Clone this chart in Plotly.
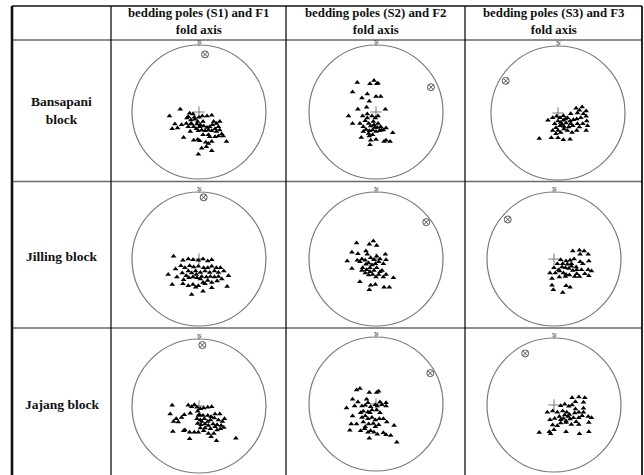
import plotly.graph_objects as go

W, H = 644, 475

# ---------------- data (unit-circle stereonet coordinates, x = East, y = North) ----------------
col_headers = ["bedding poles (S1) and F1<br>fold axis",
               "bedding poles (S2) and F2<br>fold axis",
               "bedding poles (S3) and F3<br>fold axis"]
row_labels = ["Bansapani<br>block", "Jilling block", "Jajang block"]

bansapani_s1_x = [-0.28,-0.44,-0.36,-0.40,-0.32,-0.14,-0.09,-0.07,0.00,0.05,0.12,0.19,-0.18,-0.12,-0.06,-0.02,-0.11,-0.16,-0.08,-0.04,0.01,0.07,0.12,0.16,0.22,0.26,0.31,0.29,0.24,0.19,0.26,0.31,0.34,0.29,0.41,0.14,0.09,0.04,-0.01,-0.13,-0.23,-0.08,-0.02,0.01,0.10,0.14,0.19,0.04,0.11,0.19,-0.01,-0.12,-0.03,0.06,-0.19,-0.26,0.14,0.16,0.24,0.06,-0.16,0.02,0.20,0.36]
bansapani_s1_y = [0.04,-0.06,-0.18,-0.25,-0.24,-0.02,-0.03,-0.08,-0.08,-0.06,-0.06,-0.05,-0.09,-0.12,-0.11,-0.14,-0.18,-0.22,-0.22,-0.25,-0.22,-0.21,-0.23,-0.22,-0.14,-0.17,-0.14,-0.22,-0.25,-0.28,-0.29,-0.27,-0.33,-0.36,-0.44,-0.27,-0.28,-0.27,-0.28,-0.29,-0.38,-0.42,-0.41,-0.43,-0.45,-0.47,-0.44,-0.54,-0.52,-0.58,-0.63,-0.17,-0.18,-0.14,-0.17,-0.19,-0.34,-0.37,-0.37,-0.34,-0.07,-0.19,-0.19,-0.36]

bansapani_s2_x = [-0.28,-0.09,-0.03,0.01,0.03,-0.35,-0.13,-0.21,-0.10,0.00,0.07,-0.27,-0.14,0.14,-0.41,-0.35,-0.20,-0.13,-0.06,-0.01,0.03,-0.16,-0.11,-0.08,-0.03,0.02,0.07,0.15,-0.19,-0.15,-0.10,-0.05,0.00,0.05,0.11,0.25,-0.11,-0.05,-0.22,-0.08,0.00,-0.09,0.12,0.15,0.21,-0.13,-0.24,-0.04,0.03,0.08,-0.19,-0.10,-0.02]
bansapani_s2_y = [0.44,0.42,0.47,0.42,0.43,0.30,0.27,0.21,0.16,0.23,0.23,0.04,0.07,0.04,-0.06,-0.17,-0.06,-0.03,-0.06,-0.09,-0.06,-0.13,-0.17,-0.21,-0.19,-0.23,-0.22,-0.24,-0.22,-0.26,-0.28,-0.27,-0.29,-0.28,-0.27,-0.31,-0.32,-0.34,-0.38,-0.42,-0.41,-0.49,-0.44,-0.42,-0.44,-0.09,-0.17,-0.14,-0.17,-0.27,-0.29,-0.36,-0.23]

bansapani_s3_x = [-0.15,-0.08,-0.02,0.03,0.08,0.14,0.19,0.27,0.32,0.36,0.42,0.29,0.38,-0.05,0.00,0.04,0.08,0.12,0.18,0.23,0.28,0.34,0.42,0.43,0.44,0.37,0.29,0.22,0.16,0.09,0.03,-0.03,-0.08,0.00,0.04,0.09,0.14,0.21,0.28,0.42,-0.10,0.00,0.08,0.18,-0.28,0.06,0.11,0.19,-0.03,0.32]
bansapani_s3_y = [-0.11,-0.07,-0.05,-0.07,-0.04,-0.07,-0.01,0.07,0.04,0.09,0.03,0.00,-0.01,-0.16,-0.12,-0.14,-0.11,-0.15,-0.12,-0.10,-0.09,-0.07,-0.05,-0.12,-0.19,-0.16,-0.16,-0.19,-0.21,-0.20,-0.19,-0.22,-0.26,-0.26,-0.29,-0.24,-0.26,-0.29,-0.26,-0.26,-0.37,-0.37,-0.40,-0.39,-0.38,-0.17,-0.09,-0.16,-0.31,-0.21]

jilling_s1_x = [-0.38,-0.24,-0.16,-0.09,-0.01,0.06,0.13,0.19,-0.35,-0.27,-0.21,-0.14,-0.08,-0.01,0.07,0.13,0.19,0.26,0.32,-0.46,-0.33,-0.25,-0.16,-0.11,-0.05,0.02,0.09,0.16,0.23,0.29,0.37,-0.23,-0.15,-0.09,-0.03,0.04,0.11,0.17,0.23,0.29,0.34,0.44,-0.40,-0.24,-0.16,-0.09,-0.01,0.06,0.13,0.19,0.27,0.42,-0.05,0.06,0.19,-0.11,0.02,0.09,-0.04,-0.19]
jilling_s1_y = [0.04,-0.02,0.00,-0.01,-0.02,0.00,-0.03,-0.01,-0.15,-0.10,-0.13,-0.10,-0.12,-0.11,-0.13,-0.13,-0.11,-0.13,-0.13,-0.23,-0.27,-0.21,-0.18,-0.21,-0.18,-0.20,-0.18,-0.20,-0.18,-0.20,-0.18,-0.31,-0.28,-0.27,-0.28,-0.26,-0.27,-0.26,-0.27,-0.26,-0.30,-0.25,-0.38,-0.37,-0.40,-0.38,-0.40,-0.35,-0.32,-0.35,-0.33,-0.41,-0.42,-0.48,-0.43,-0.53,-0.30,-0.37,-0.23,-0.25]

jilling_s2_x = [-0.29,-0.10,-0.04,0.01,-0.36,-0.27,-0.15,-0.13,-0.21,-0.16,-0.08,-0.03,0.01,0.06,0.14,0.15,-0.43,-0.24,-0.11,-0.06,0.04,0.11,-0.36,-0.20,-0.14,-0.09,-0.03,0.01,0.06,-0.21,-0.16,-0.11,-0.05,0.00,0.04,0.09,0.15,0.26,-0.24,-0.08,-0.01,-0.10,0.12,0.20,-0.15,-0.09,-0.01,0.11,-0.28]
jilling_s2_y = [0.24,0.22,0.27,0.20,0.10,0.08,0.12,0.07,0.00,-0.02,0.02,-0.01,0.04,0.00,0.07,-0.01,-0.03,-0.04,-0.06,-0.09,-0.04,-0.07,-0.14,-0.13,-0.16,-0.13,-0.17,-0.13,-0.19,-0.17,-0.21,-0.24,-0.23,-0.27,-0.23,-0.17,-0.23,-0.28,-0.34,-0.39,-0.38,-0.46,-0.42,-0.42,-0.08,-0.19,-0.07,-0.27,-0.02]

jilling_s3_x = [0.28,0.38,0.45,0.39,0.51,0.10,0.18,0.24,0.30,0.20,0.13,0.26,0.33,0.39,0.43,0.52,0.00,0.07,0.12,0.17,0.22,0.28,0.34,0.41,0.51,0.56,-0.06,0.02,0.08,0.14,0.18,0.23,0.31,0.38,0.46,0.52,-0.03,0.08,0.17,-0.03,0.18,0.24,-0.01,0.13,0.05,0.26,0.34]
jilling_s3_y = [0.12,0.13,0.12,0.07,0.07,-0.01,-0.03,-0.02,0.00,-0.08,-0.07,-0.07,-0.12,-0.04,-0.07,-0.03,-0.13,-0.16,-0.12,-0.13,-0.14,-0.17,-0.16,-0.16,-0.16,-0.18,-0.21,-0.21,-0.18,-0.21,-0.23,-0.24,-0.26,-0.26,-0.22,-0.25,-0.29,-0.27,-0.26,-0.39,-0.40,-0.42,-0.46,-0.50,-0.07,-0.11,-0.22]

jajang_s1_x = [-0.40,-0.16,-0.11,-0.07,-0.03,0.02,0.07,0.13,0.19,-0.43,-0.34,-0.26,-0.22,-0.13,-0.02,0.01,0.06,0.13,0.18,0.24,0.31,0.38,-0.38,-0.31,-0.03,0.02,0.08,0.13,0.17,0.23,0.29,0.35,-0.02,0.03,0.09,0.14,0.21,0.27,0.33,0.37,-0.39,-0.23,-0.14,-0.07,-0.01,0.07,0.14,0.22,0.27,0.32,0.18,-0.14,0.26,0.55,0.02,0.09,0.17,0.24,-0.01,0.04,-0.21]
jajang_s1_y = [0.01,0.01,-0.01,0.02,-0.02,-0.04,-0.03,-0.02,-0.01,-0.12,-0.19,-0.17,-0.13,-0.11,-0.08,-0.13,-0.14,-0.14,-0.16,-0.12,-0.12,-0.19,-0.23,-0.24,-0.19,-0.21,-0.19,-0.23,-0.21,-0.18,-0.21,-0.23,-0.26,-0.28,-0.27,-0.29,-0.27,-0.28,-0.29,-0.32,-0.38,-0.37,-0.39,-0.39,-0.39,-0.37,-0.41,-0.41,-0.36,-0.34,-0.46,-0.49,-0.52,-0.48,-0.33,-0.33,-0.34,-0.31,-0.14,-0.23,-0.36]

jajang_s2_x = [-0.29,-0.24,-0.10,0.01,0.04,-0.35,-0.27,-0.14,-0.12,0.06,0.15,-0.44,-0.32,-0.21,-0.16,-0.08,-0.01,0.02,0.09,0.15,-0.35,-0.19,-0.12,-0.06,0.01,0.06,-0.21,-0.16,-0.12,-0.06,-0.01,0.05,0.11,0.16,0.27,-0.37,-0.29,-0.39,-0.23,-0.17,-0.12,-0.08,-0.03,0.02,-0.10,0.11,0.15,0.22,0.31,-0.19,-0.11,-0.04,0.04,-0.16,-0.01,-0.09,-0.23]
jajang_s2_y = [0.21,0.23,0.17,0.17,0.19,0.07,0.03,0.07,0.02,0.03,0.02,-0.06,-0.03,-0.03,-0.02,-0.04,-0.01,-0.03,-0.01,-0.03,-0.18,-0.11,-0.12,-0.09,-0.09,-0.13,-0.20,-0.18,-0.22,-0.20,-0.24,-0.22,-0.22,-0.27,-0.32,-0.30,-0.30,-0.39,-0.40,-0.37,-0.42,-0.40,-0.42,-0.45,-0.51,-0.43,-0.46,-0.47,-0.57,-0.27,-0.30,-0.29,-0.31,-0.34,-0.34,-0.13,-0.13]

jajang_s3_x = [0.27,0.37,0.46,0.32,0.44,0.10,0.16,0.22,0.27,0.32,0.44,-0.10,-0.02,0.05,0.13,0.19,0.23,0.31,0.37,0.44,0.51,0.56,-0.06,0.01,0.08,0.14,0.18,0.24,0.29,0.37,0.42,0.52,-0.02,0.05,0.10,0.18,0.26,0.37,0.00,-0.07,-0.05,0.18,0.38,0.52,-0.22,0.16,0.10,0.33,0.21]
jajang_s3_y = [0.11,0.12,0.11,0.05,0.04,-0.01,0.01,-0.02,0.00,-0.06,-0.05,-0.11,-0.09,-0.11,-0.09,-0.11,-0.14,-0.12,-0.11,-0.11,-0.17,-0.19,-0.22,-0.20,-0.17,-0.20,-0.24,-0.21,-0.19,-0.19,-0.16,-0.26,-0.30,-0.31,-0.27,-0.26,-0.29,-0.29,-0.37,-0.40,-0.43,-0.40,-0.43,-0.40,-0.41,-0.15,-0.22,-0.25,-0.17]

# fold axes (F1, F2, F3) per block, same order as panels below
fold_x = [0.09, 0.82, -0.78, 0.07, 0.75, -0.69, 0.05, 0.81, -0.43]
fold_y = [0.86, 0.37, 0.48, 0.92, 0.55, 0.59, 0.91, 0.46, 0.77]

poles = [
    (bansapani_s1_x, bansapani_s1_y), (bansapani_s2_x, bansapani_s2_y), (bansapani_s3_x, bansapani_s3_y),
    (jilling_s1_x, jilling_s1_y), (jilling_s2_x, jilling_s2_y), (jilling_s3_x, jilling_s3_y),
    (jajang_s1_x, jajang_s1_y), (jajang_s2_x, jajang_s2_y), (jajang_s3_x, jajang_s3_y),
]

# ---------------- layout geometry (pixels) ----------------
col_lines = [12, 111, 286, 465, 642]
row_lines = [6, 40, 181.5, 328, 475]
panel_centers = [(199, 112), (376, 112), (558, 113),
                 (199, 259), (376, 259), (554, 259),
                 (199, 406), (376, 404), (554, 405)]
R = 67
HALF = 74

def px(x):
    return x / W

def py(y):
    return 1 - y / H

FONT = "Liberation Serif, Times New Roman, serif"

fig = go.Figure()
shapes = []
annotations = []
layout_axes = {}

for i, ((xs, ys), (cx, cy)) in enumerate(zip(poles, panel_centers)):
    n = i + 1
    sx = "" if n == 1 else str(n)
    x0, x1 = cx - HALF, cx + HALF
    y0, y1 = max(cy - HALF, 0), min(cy + HALF, H)
    layout_axes["xaxis" + sx] = dict(domain=[px(x0), px(x1)], range=[(x0 - cx) / R, (x1 - cx) / R],
                                     visible=False, fixedrange=True, anchor="y" + sx)
    layout_axes["yaxis" + sx] = dict(domain=[py(y1), py(y0)], range=[(cy - y1) / R, (cy - y0) / R],
                                     visible=False, fixedrange=True, anchor="x" + sx)
    xr, yr = "x" + sx, "y" + sx
    # primitive circle
    shapes.append(dict(type="circle", xref=xr, yref=yr, x0=-1, x1=1, y0=-1, y1=1,
                       line=dict(color="#7a7a7a", width=1.2)))
    # north tick
    shapes.append(dict(type="line", xref=xr, yref=yr, x0=0, x1=0, y0=0.985, y1=1.035,
                       line=dict(color="#666", width=0.8)))
    annotations.append(dict(x=0, y=0.98, xref=xr, yref=yr, text="N", showarrow=False,
                            xanchor="center", yanchor="bottom", borderpad=0,
                            font=dict(family=FONT, size=6.5, color="#333")))
    # center cross
    fig.add_trace(go.Scatter(x=[0], y=[0], xaxis=xr, yaxis=yr, mode="markers", hoverinfo="skip",
                             marker=dict(symbol="cross-thin-open", size=8, color="#777",
                                         line=dict(color="#777", width=1))))
    # bedding poles
    fig.add_trace(go.Scatter(x=xs, y=ys, xaxis=xr, yaxis=yr, mode="markers",
                             marker=dict(symbol="triangle-up", size=5, color="black",
                                         line=dict(width=0))))
    # fold axis
    fig.add_trace(go.Scatter(x=[fold_x[i]], y=[fold_y[i]], xaxis=xr, yaxis=yr, mode="markers",
                             marker=dict(symbol="circle-x-open", size=7, color="#555",
                                         line=dict(color="#555", width=1))))

# table lines
top, bottom = row_lines[0], row_lines[-1]
shapes.append(dict(type="line", xref="paper", yref="paper", x0=px(col_lines[0]), x1=px(col_lines[-1]),
                   y0=py(top), y1=py(top), line=dict(color="#111", width=1.5)))
for yl in row_lines[1:-1]:
    shapes.append(dict(type="line", xref="paper", yref="paper", x0=px(col_lines[0]), x1=px(col_lines[-1]),
                       y0=py(yl), y1=py(yl), line=dict(color="#6a6a6a", width=1.4)))
for j, xl in enumerate(col_lines):
    w = 2.6 if j == 0 else (1.8 if j == len(col_lines) - 1 else 1.3)
    shapes.append(dict(type="line", xref="paper", yref="paper", x0=px(xl), x1=px(xl),
                       y0=py(top), y1=py(bottom), line=dict(color="#111", width=w)))

# header texts
for j, txt in enumerate(col_headers):
    cxh = (col_lines[j + 1] + col_lines[j + 2]) / 2
    annotations.append(dict(x=px(cxh), y=py(21.5), xref="paper", yref="paper", text="<b>" + txt + "</b>",
                            showarrow=False, align="center", xanchor="center", yanchor="middle",
                            borderpad=0, font=dict(family=FONT, size=12.8, color="#111")))
# row labels
row_label_y = [110, 256, 404]
for k, txt in enumerate(row_labels):
    cxl = (col_lines[0] + col_lines[1]) / 2
    annotations.append(dict(x=px(cxl), y=py(row_label_y[k]), xref="paper", yref="paper",
                            text="<b>" + txt + "</b>", showarrow=False, align="center",
                            xanchor="center", yanchor="middle",
                            font=dict(family=FONT, size=13.5, color="#111")))

fig.update_layout(width=W, height=H, margin=dict(l=0, r=0, t=0, b=0),
                  paper_bgcolor="white", plot_bgcolor="rgba(0,0,0,0)", showlegend=False,
                  shapes=shapes, annotations=annotations, **layout_axes)

fig.write_html("out.html", config={"displayModeBar": False},
               post_script="document.body.style.margin='0';document.body.style.overflow='hidden';")
